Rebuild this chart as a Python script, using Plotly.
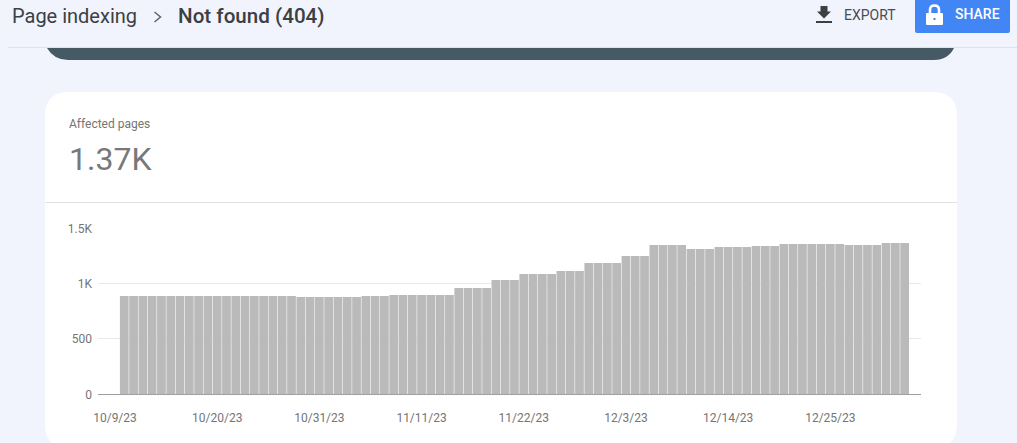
import datetime as dt
import plotly.graph_objects as go

W, H = 1017, 443

# --- data ---
first_day = dt.date(2023, 10, 10)
affected_pages = [
    888, 888, 888, 888, 888, 888, 888, 888, 888, 888, 888, 888, 888, 888, 888, 888, 888, 888, 888,
    880, 880, 880, 880, 880, 880, 880,
    888, 888, 888,
    898, 898, 898, 898, 898, 898, 898,
    961, 961, 961, 961,
    1033, 1033, 1033,
    1087, 1087, 1087, 1087,
    1114, 1114, 1114,
    1187, 1187, 1187, 1187,
    1250, 1250, 1250,
    1349, 1349, 1349, 1349,
    1313, 1313, 1313,
    1331, 1331, 1331, 1331,
    1340, 1340, 1340,
    1358, 1358, 1358, 1358, 1358, 1358, 1358,
    1349, 1349, 1349, 1349,
    1367, 1367, 1367,
]
dates = [first_day + dt.timedelta(days=i) for i in range(len(affected_pages))]
x_tick_dates = ["2023-10-09", "2023-10-20", "2023-10-31", "2023-11-11",
                "2023-11-22", "2023-12-03", "2023-12-14", "2023-12-25"]
x_tick_labels = ["10/9/23", "10/20/23", "10/31/23", "11/11/23",
                 "11/22/23", "12/3/23", "12/14/23", "12/25/23"]
y_tick_values = [0, 500, 1000, 1500]
y_tick_labels = ["0", "500", "1K", "1.5K"]


def fx(x):
    return x / W


def fy(y):
    return 1 - y / H


def path(*parts):
    """Build a paper-coordinate SVG path from (command, x, y, ...) tuples in pixels."""
    out = []
    for p in parts:
        cmd, nums = p[0], p[1:]
        coords = []
        for i in range(0, len(nums), 2):
            coords.append(f"{fx(nums[i]):.5f},{fy(nums[i + 1]):.5f}")
        out.append(cmd + " ".join(coords))
    return " ".join(out)


def shape(d, fill, line_color=None, line_width=0):
    return dict(type="path", xref="paper", yref="paper", path=d, fillcolor=fill,
                line=dict(color=line_color or fill, width=line_width), layer="below")


def label(x, y, text, size, color, weight=400, anchor="left", family="Roboto"):
    return dict(xref="paper", yref="paper", x=fx(x), y=fy(y), text=text, showarrow=False,
                xanchor=anchor, yanchor="middle", borderpad=0, borderwidth=0,
                font=dict(family=family, size=size, color=color, weight=weight))


DARK = "#455a64"
BLUE = "#4285f4"

shapes = [
    # header rule
    shape(path(("M", 8, 47), ("L", 1017, 47), ("L", 1017, 48), ("L", 8, 48), ("Z",)), "#e0e2e6"),
    # dark banner
    shape(path(("M", 47, 48), ("L", 954, 48), ("Q", 948, 60, 934, 60), ("L", 68, 60),
               ("Q", 54, 60, 47, 48), ("Z",)), DARK),
    # white card
    shape(path(("M", 45, 116), ("Q", 45, 92, 69, 92), ("L", 933, 92), ("Q", 957, 92, 957, 116),
               ("L", 957, 424), ("Q", 957, 448, 933, 448), ("L", 69, 448), ("Q", 45, 448, 45, 424),
               ("Z",)), "#ffffff"),
    # card rule
    shape(path(("M", 45, 202), ("L", 957, 202), ("L", 957, 203), ("L", 45, 203), ("Z",)), "#dfe1e5"),
    # share button
    shape(path(("M", 915, 0), ("L", 1010, 0), ("L", 1010, 31), ("Q", 1010, 33, 1008, 33),
               ("L", 917, 33), ("Q", 915, 33, 915, 31), ("Z",)), BLUE),
    # lock body and hoop
    shape(path(("M", 927, 13), ("L", 942, 13), ("Q", 943, 13, 943, 14), ("L", 943, 24),
               ("Q", 943, 25, 942, 25), ("L", 927, 25), ("Q", 926, 25, 926, 24), ("L", 926, 14),
               ("Q", 926, 13, 927, 13), ("Z",)), "#ffffff"),
    dict(type="path", xref="paper", yref="paper", layer="below", fillcolor="rgba(0,0,0,0)",
         line=dict(color="#ffffff", width=2.6),
         path=path(("M", 930, 14), ("L", 930, 10), ("Q", 930, 5.5, 934.5, 5.5), ("Q", 939, 5.5, 939, 10),
                   ("L", 939, 14))),
    shape(path(("M", 933.5, 18), ("L", 935.5, 18), ("L", 935.5, 20), ("L", 933.5, 20), ("Z",)), BLUE),
    # export icon
    shape(path(("M", 820.5, 6), ("L", 827.5, 6), ("L", 827.5, 11.5), ("L", 831, 11.5), ("L", 824, 18.5),
               ("L", 817, 11.5), ("L", 820.5, 11.5), ("Z",)), "#3c4043"),
    shape(path(("M", 816, 21), ("L", 832, 21), ("L", 832, 23), ("L", 816, 23), ("Z",)), "#3c4043"),
    # breadcrumb chevron
    dict(type="path", xref="paper", yref="paper", layer="below", fillcolor="rgba(0,0,0,0)",
         line=dict(color="#5f6368", width=1.5),
         path=path(("M", 154.5, 12), ("L", 160.5, 17), ("L", 154.5, 22))),
]

annotations = [
    label(12, 16, "Page indexing", 20, "#3c4043"),
    label(178, 16, "Not found (404)", 20.6, "#3c4043", weight=500, family="Roboto Medium, Roboto"),
    label(843.5, 15, "EXPORT", 14, "#4a4d50"),
    label(955, 14, "SHARE", 14, "#ffffff", weight=500),
    label(69, 124, "Affected pages", 12, "#757575"),
    label(69, 159, "1.37K", 32, "#787878"),
]

fig = go.Figure(
    go.Bar(x=dates, y=affected_pages, marker=dict(color="#bababa", line=dict(width=0)),
           hoverinfo="x+y")
)

fig.update_layout(
    width=W, height=H, autosize=False,
    margin=dict(l=0, r=0, t=0, b=0, pad=0, autoexpand=False),
    paper_bgcolor="#f1f4fd", plot_bgcolor="rgba(0,0,0,0)",
    bargap=0.06, showlegend=False,
    shapes=shapes, annotations=annotations,
    xaxis=dict(
        type="date", domain=[fx(98), fx(921)], automargin=False,
        range=["2023-10-07 04:05", "2024-01-03 18:14"],
        tickmode="array", tickvals=x_tick_dates, ticktext=x_tick_labels,
        ticks="", showgrid=False, zeroline=False, showline=False,
        tickfont=dict(family="Roboto", size=12, color="#757575"),
        ticklabelstandoff=15,
    ),
    yaxis=dict(
        domain=[fy(394.3), fy(228.3)], range=[0, 1500], automargin=False,
        tickmode="array", tickvals=y_tick_values, ticktext=y_tick_labels,
        ticks="", showgrid=True, gridcolor="#e8e8e8", gridwidth=1,
        zeroline=True, zerolinecolor="#9e9e9e", zerolinewidth=1, showline=False,
        tickfont=dict(family="Roboto", size=12, color="#757575"),
        ticklabelstandoff=5,
    ),
)

fig.write_html(
    "out.html",
    config={"displayModeBar": False},
    post_script="document.body.style.margin='0';document.documentElement.style.overflow='hidden';",
)
